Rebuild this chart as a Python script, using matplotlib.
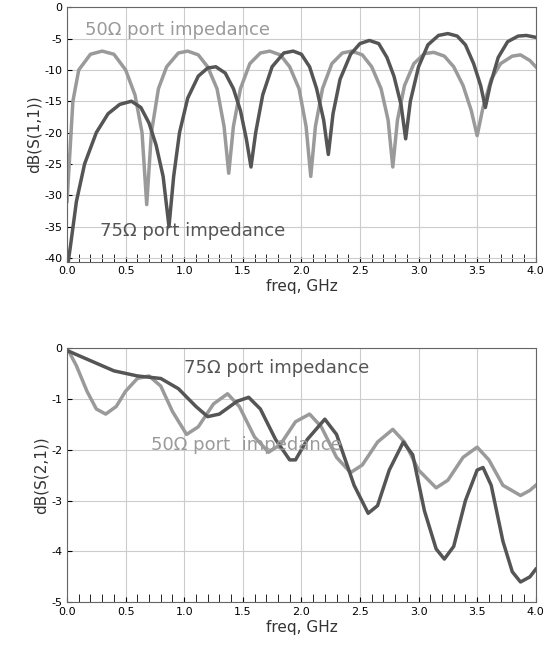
import matplotlib
matplotlib.use("Agg")
import matplotlib.pyplot as plt
from matplotlib.ticker import MultipleLocator
plt.rcParams['axes.unicode_minus'] = False

s11_50_x = [0,0.05,0.1,0.2,0.3,0.4,0.5,0.58,0.64,0.68,0.72,0.78,0.85,0.95,1.03,1.12,1.2,1.28,1.34,1.38,1.42,1.48,1.56,1.65,1.73,1.82,1.9,1.98,2.04,2.08,2.12,2.18,2.26,2.35,2.43,2.52,2.6,2.68,2.74,2.78,2.82,2.88,2.96,3.05,3.13,3.22,3.3,3.38,3.45,3.5,3.55,3.62,3.7,3.8,3.87,3.95,4.0]
s11_50_y = [-31,-15,-10,-7.5,-7,-7.5,-10,-14,-20,-31.5,-20,-13,-9.5,-7.3,-7,-7.6,-9.5,-13,-19,-26.5,-19,-13,-9,-7.3,-7,-7.6,-9.5,-13,-19,-27,-19,-13,-9,-7.3,-7,-7.6,-9.5,-13,-18,-25.5,-18,-12.5,-9,-7.4,-7.2,-7.8,-9.5,-12.5,-16.5,-20.5,-16,-11.5,-9,-7.8,-7.6,-8.5,-9.5]
s11_75_x = [0,0.03,0.08,0.15,0.25,0.35,0.45,0.55,0.63,0.7,0.76,0.82,0.87,0.91,0.96,1.03,1.12,1.2,1.27,1.35,1.42,1.48,1.53,1.57,1.61,1.67,1.75,1.85,1.93,2.0,2.07,2.13,2.19,2.23,2.27,2.33,2.42,2.5,2.58,2.66,2.73,2.79,2.85,2.89,2.93,3.0,3.08,3.17,3.25,3.33,3.4,3.47,3.53,3.57,3.61,3.68,3.76,3.85,3.92,4.0]
s11_75_y = [-42,-38,-31,-25,-20,-17,-15.5,-15,-16,-18.5,-22,-27,-35,-27,-20,-14.5,-11,-9.7,-9.5,-10.5,-13,-16.5,-21,-25.5,-20,-14,-9.5,-7.3,-7,-7.5,-9.5,-13,-18,-23.5,-17,-11.5,-7.5,-5.8,-5.3,-5.8,-8,-11,-15.5,-21,-15,-9.5,-6,-4.5,-4.2,-4.6,-6,-9,-12.5,-16,-12.5,-8,-5.5,-4.6,-4.5,-4.8]

s21_50_x = [0,0.08,0.17,0.25,0.33,0.42,0.5,0.6,0.7,0.8,0.9,1.02,1.12,1.25,1.37,1.47,1.6,1.72,1.82,1.95,2.07,2.17,2.3,2.42,2.52,2.65,2.78,2.88,3.0,3.15,3.25,3.38,3.5,3.6,3.72,3.87,3.95,4.0]
s21_50_y = [0,-0.35,-0.85,-1.2,-1.3,-1.15,-0.85,-0.6,-0.55,-0.75,-1.25,-1.7,-1.55,-1.1,-0.9,-1.15,-1.75,-2.05,-1.9,-1.45,-1.3,-1.55,-2.15,-2.45,-2.3,-1.85,-1.6,-1.85,-2.4,-2.75,-2.6,-2.15,-1.95,-2.2,-2.7,-2.9,-2.8,-2.7]
s21_75_x = [0,0.2,0.4,0.6,0.8,0.95,1.1,1.2,1.3,1.45,1.55,1.65,1.78,1.9,1.95,2.05,2.2,2.3,2.45,2.57,2.65,2.75,2.87,2.95,3.05,3.15,3.22,3.3,3.4,3.5,3.55,3.62,3.72,3.8,3.87,3.95,4.0]
s21_75_y = [-0.05,-0.25,-0.45,-0.55,-0.6,-0.8,-1.15,-1.35,-1.3,-1.05,-0.97,-1.2,-1.8,-2.2,-2.2,-1.8,-1.4,-1.7,-2.7,-3.25,-3.1,-2.4,-1.85,-2.1,-3.2,-3.95,-4.15,-3.9,-3.0,-2.4,-2.35,-2.7,-3.8,-4.4,-4.6,-4.5,-4.35]

LIGHT = "#9a9a9a"
DARK = "#555555"

fig = plt.figure(figsize=(5.45, 6.59), dpi=100)
ax1 = fig.add_axes([0.123, 0.603, 0.860, 0.386])
ax2 = fig.add_axes([0.123, 0.086, 0.860, 0.386])

def style(ax, ylim, ystep, ylabel):
    ax.set_xlim(0, 4)
    ax.set_ylim(*ylim)
    ax.xaxis.set_major_locator(MultipleLocator(0.5))
    ax.xaxis.set_minor_locator(MultipleLocator(0.1))
    ax.yaxis.set_major_locator(MultipleLocator(ystep))
    ax.grid(True, color="#cccccc", linewidth=0.8)
    ax.tick_params(axis="x", which="both", direction="in", labelsize=8)
    ax.tick_params(axis="x", which="minor", length=6)
    ax.tick_params(axis="y", labelsize=8, direction="in")
    for sp in ax.spines.values():
        sp.set_color("#666666")
    ax.set_xlabel("freq, GHz", fontsize=11, color="#333333", labelpad=2)
    ax.set_ylabel(ylabel, fontsize=11, color="#333333", labelpad=2)

ax1.plot(s11_50_x, s11_50_y, color=LIGHT, lw=2.5)
ax1.plot(s11_75_x, s11_75_y, color=DARK, lw=2.5)
style(ax1, (-40.6, 0), 5, "dB(S(1,1))")
ax1.set_yticks(range(-40, 1, 5))
ax1.text(0.15, -4.5, "50Ω port impedance", color=LIGHT, fontsize=13)
ax1.text(0.28, -36.5, "75Ω port impedance", color=DARK, fontsize=13)

ax2.plot(s21_50_x, s21_50_y, color=LIGHT, lw=2.5)
ax2.plot(s21_75_x, s21_75_y, color=DARK, lw=2.5)
style(ax2, (-5, 0), 1, "dB(S(2,1))")
ax2.text(1.0, -0.5, "75Ω port impedance", color=DARK, fontsize=13)
ax2.text(0.72, -2.0, "50Ω port  impedance", color=LIGHT, fontsize=13)

fig.savefig("out.png", dpi=100)
